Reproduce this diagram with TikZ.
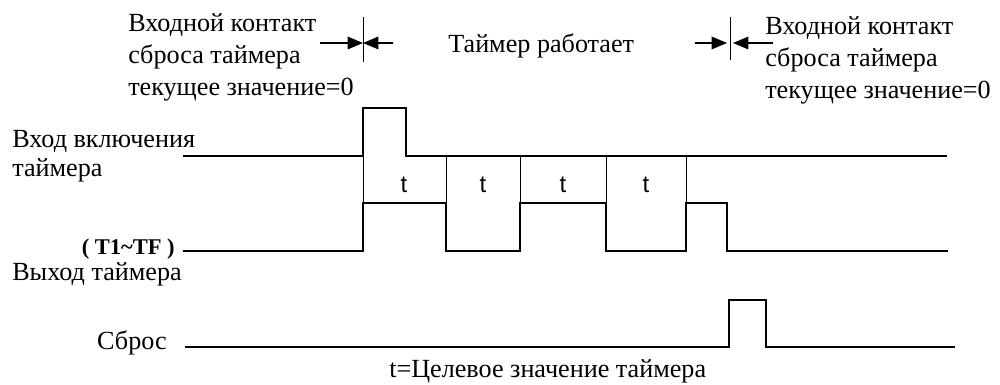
\documentclass[tikz,border=0pt]{standalone}
\usepackage{fontspec}
\setmainfont{Liberation Serif}
\newfontfamily\tlabelfont{Liberation Sans}
\usetikzlibrary{positioning,arrows.meta}

\begin{document}
\begin{tikzpicture}[x=0.025cm, y=-0.025cm,
    sig/.style={line width=2.1pt, line join=miter},
    guide/.style={line width=0.7pt},
    txt/.style={font=\fontsize{18.6}{22}\selectfont, inner sep=0pt},
    tlbl/.style={font=\tlabelfont\fontsize{17}{17}\selectfont, inner sep=0pt},
    marker/.style={line width=0.9pt, -{Triangle[length=11pt, width=9pt]}}]
    \useasboundingbox (0,0) rectangle (1000,385);

    % Top left text
    \node[txt, anchor=base west] (rstL1) at (128,32) {Входной контакт};
    \node[txt, anchor=base west] (rstL2) at (128,64) {сброса таймера};
    \node[txt, anchor=base west] (rstL3) at (128,96) {текущее значение=0};

    % Top middle text
    \node[txt, anchor=base west] (run) at (448,53) {Таймер работает};

    % Top right text
    \node[txt, anchor=base west] (rstR1) at (765,35) {Входной контакт};
    \node[txt, anchor=base west] (rstR2) at (765,67) {сброса таймера};
    \node[txt, anchor=base west] (rstR3) at (765,99) {текущее значение=0};

    % Signal names
    \node[txt, anchor=base west] (in1) at (12,148) {Вход включения};
    \node[txt, anchor=base west] (in2) at (12,177) {таймера};
    \node[txt, anchor=base east, font=\bfseries\fontsize{16}{16}\selectfont] (out1) at (175,255) {( T1\textasciitilde TF )};
    \node[txt, anchor=base west] (out2) at (12,281) {Выход таймера};
    \node[txt, anchor=base east] (rst) at (167,350) {Сброс};
    \node[txt, anchor=base west] (note) at (389,378) {t=Целевое значение таймера};

    % Left marker
    \coordinate (lmT) at (363,17);
    \coordinate (lmB) at (363,62);
    \coordinate (lmL) at (320,43);
    \coordinate (lmR) at (393,43);
    \coordinate (lm) at (363,43);
    \draw[guide] (lmT) -- (lmB);
    \draw[marker] (lmL) -- (lm);
    \draw[marker] (lmR) -- (lm);

    % Right marker
    \coordinate (rmT) at (730,17);
    \coordinate (rmB) at (730,60);
    \coordinate (rmL) at (695,43);
    \coordinate (rmR) at (773,43);
    \coordinate (rmA) at (727,43);
    \coordinate (rmC) at (733,43);
    \draw[guide] (rmT) -- (rmB);
    \draw[marker] (rmL) -- (rmA);
    \draw[marker] (rmR) -- (rmC);

    % Input signal
    \draw[sig] (183,156) -- (363,156) -- (363,108) -- (406,108) -- (406,156) -- (947,156);

    % Output signal
    \draw[sig] (183,251) -- (363,251) -- (363,203) -- (446,203) -- (446,251)
        -- (520,251) -- (520,203) -- (606,203) -- (606,251)
        -- (686,251) -- (686,203) -- (727,203) -- (727,251) -- (948,251);

    % Reset signal
    \draw[sig] (185,347) -- (729,347) -- (729,300) -- (766,300) -- (766,347) -- (955,347);

    % Timing intervals
    \foreach \x in {363,446,520,606,686}
        \draw[guide] (\x,156) -- (\x,203);
    \foreach \x [count=\i] in {404,483,563,646}
        \node[tlbl, anchor=base] (t\i) at (\x,193) {t};
\end{tikzpicture}
\end{document}
